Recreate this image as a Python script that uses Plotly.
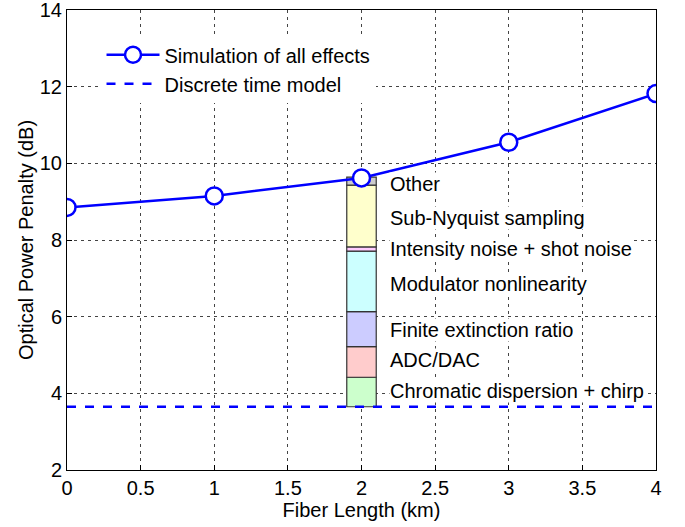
import plotly.graph_objects as go

fiber_km = [0, 1, 2, 3, 4]
penalty_sim = [8.85, 9.15, 9.62, 10.55, 11.82]
discrete_model = 3.65

seg_names = ["Chromatic dispersion + chirp", "ADC/DAC", "Finite extinction ratio",
             "Modulator nonlinearity", "Intensity noise + shot noise",
             "Sub-Nyquist sampling", "Other"]
seg_heights = [0.77, 0.80, 0.91, 1.58, 0.11, 1.61, 0.21]
seg_colors = ["#ccffcc", "#ffcccc", "#ccccff", "#ccffff", "#ffccff", "#ffffcc", "#cccccc"]
label_y = [4.05, 4.88, 5.66, 6.86, 7.77, 8.57, 9.45]

FS = 20

fig = go.Figure()

base = discrete_model
for name, h, c in zip(seg_names, seg_heights, seg_colors):
    fig.add_trace(go.Bar(x=[2], y=[h], base=[base], width=0.2, marker=dict(color=c, line=dict(color="#333333", width=1.2)),
                         showlegend=False, name=name))
    base += h

fig.add_trace(go.Scatter(x=fiber_km, y=penalty_sim, mode="lines+markers", name="Simulation of all effects",
                         line=dict(color="#0000ff", width=2.5),
                         marker=dict(symbol="circle", size=17, color="white", line=dict(color="#0000ff", width=2.5))))
fig.add_trace(go.Scatter(x=[0, 4], y=[discrete_model, discrete_model], mode="lines", name="Discrete time model",
                         line=dict(color="#0000ff", width=2.5, dash="dash")))

for name, yv in zip(seg_names, label_y):
    fig.add_annotation(x=2.19, y=yv, xref="x", yref="y", text=name, showarrow=False, xanchor="left",
                       bgcolor="white", borderpad=0, font=dict(size=FS, color="black"))

axis_common = dict(showline=True, linecolor="black", linewidth=1, mirror=True, ticks="inside", ticklen=5,
                   tickcolor="black", showgrid=True, gridcolor="#444444", gridwidth=1, griddash="3px,4px",
                   zeroline=False, tickfont=dict(size=FS, color="black"), ticklabeloverflow="allow",
                   automargin=False)
fig.update_xaxes(range=[0, 4], dtick=0.5, title=dict(text="Fiber Length (km)", font=dict(size=FS, color="black"), standoff=2),
                 **axis_common)
fig.update_yaxes(range=[2, 14], dtick=2, title=dict(text="Optical Power Penalty (dB)", font=dict(size=FS, color="black"), standoff=0),
                 **axis_common)

fig.update_layout(width=685, height=527, margin=dict(l=67, r=29, t=10, b=57, autoexpand=False),
                  paper_bgcolor="white", plot_bgcolor="white", barmode="overlay",
                  font=dict(family="Liberation Sans, Arial, sans-serif", size=FS, color="black"),
                  legend=dict(x=0.0586, y=0.945, xanchor="left", yanchor="top", bgcolor="white",
                              borderwidth=0, font=dict(size=FS), itemwidth=53, tracegroupgap=0),
                  showlegend=True)

fig.write_html("out.html")
